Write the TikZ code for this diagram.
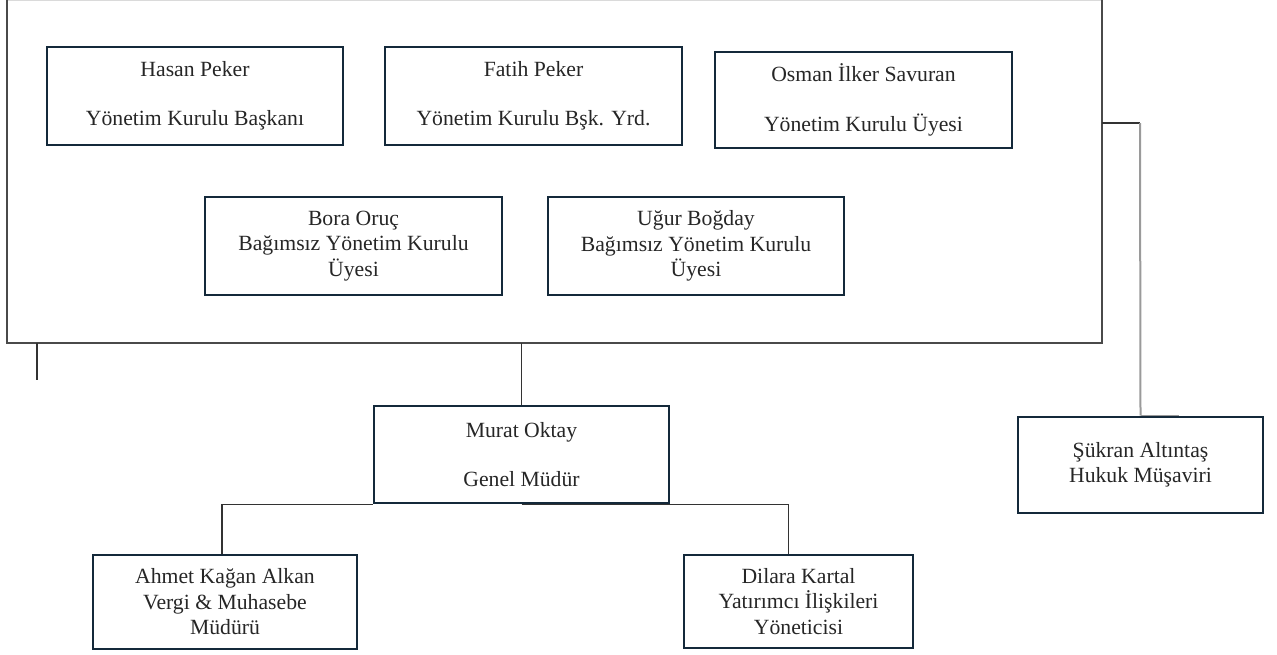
\documentclass[tikz,border=0pt]{standalone}
\usepackage{fontspec}
\setmainfont{Liberation Serif}
\definecolor{lacivert}{HTML}{14293A}
\definecolor{koyuGri}{HTML}{4A4A4A}
\definecolor{acikGri}{HTML}{DADADA}
\definecolor{ortaGri}{HTML}{9A9A9A}
\begin{document}
\begin{tikzpicture}[x=1pt,y=-1pt,
    kutu/.style={draw=lacivert, line width=2.8pt, align=center, inner sep=0pt,
      text=black!85, font=\fontsize{21.7}{25.5}\selectfont},
    baglanti/.style={draw=black!80, line width=1.3pt}]
  \useasboundingbox (0,0) rectangle (1277,654);

  % yonetim kurulu cercevesi
  \node (kurul) [minimum width=1095pt, minimum height=342pt, inner sep=0pt] at (554.5,171.5) {};
  \draw[acikGri, line width=1pt] (kurul.north west) -- (kurul.north east);
  \draw[koyuGri, line width=2pt] (kurul.north west) -- (kurul.south west) -- (kurul.south east) -- (kurul.north east);

  \node (hasan) [kutu, minimum width=296pt, minimum height=98pt] at (195,96) {Hasan Peker\\[24pt]Yönetim Kurulu Başkanı};
  \node (fatih) [kutu, minimum width=297pt, minimum height=98pt] at (533.5,96) {Fatih Peker\\[24pt]Yönetim Kurulu Bşk. Yrd.};
  \node (osman) [kutu, minimum width=297pt, minimum height=96pt] at (863.5,100) {Osman İlker Savuran\\[24pt]Yönetim Kurulu Üyesi};
  \node (bora) [kutu, minimum width=297pt, minimum height=98pt] at (353.5,246) {Bora Oruç\\Bağımsız Yönetim Kurulu\\Üyesi};
  \node (ugur) [kutu, minimum width=296pt, minimum height=98pt] at (696,246) {Uğur Boğday\\Bağımsız Yönetim Kurulu\\Üyesi};

  \node (murat) [kutu, minimum width=295pt, minimum height=97pt] at (521.5,454.5) {Murat Oktay\\[24pt]Genel Müdür};
  \node (ahmet) [kutu, minimum width=264pt, minimum height=94pt] at (225,602) {Ahmet Kağan Alkan\\Vergi \& Muhasebe\\Müdürü};
  \node (dilara) [kutu, minimum width=229pt, minimum height=93pt] at (798.5,601.5) {Dilara Kartal\\Yatırımcı İlişkileri\\Yöneticisi};
  \node (sukran) [kutu, minimum width=245pt, minimum height=96pt] at (1140.5,465) {Şükran Altıntaş\\Hukuk Müşaviri};

  \coordinate (solUc) at (37,380);

  % baglantilar
  \draw[baglanti] (kurul.south -| solUc) -- (solUc);
  \draw[baglanti] (murat.north) -- (murat.north |- kurul.south);
  \draw[baglanti] (murat.south west) -| ([xshift=-3pt]ahmet.north);
  \draw[baglanti] (murat.south) -| ([xshift=-10pt]dilara.north);
  \draw[baglanti] (kurul.east |- 0,123) -- (1140,123);
  \draw[ortaGri, line width=2pt] (1140,123) -- (sukran.north);
  \draw[ortaGri, line width=1.3pt] (sukran.north) -- ++(38,0);
\end{tikzpicture}
\end{document}
